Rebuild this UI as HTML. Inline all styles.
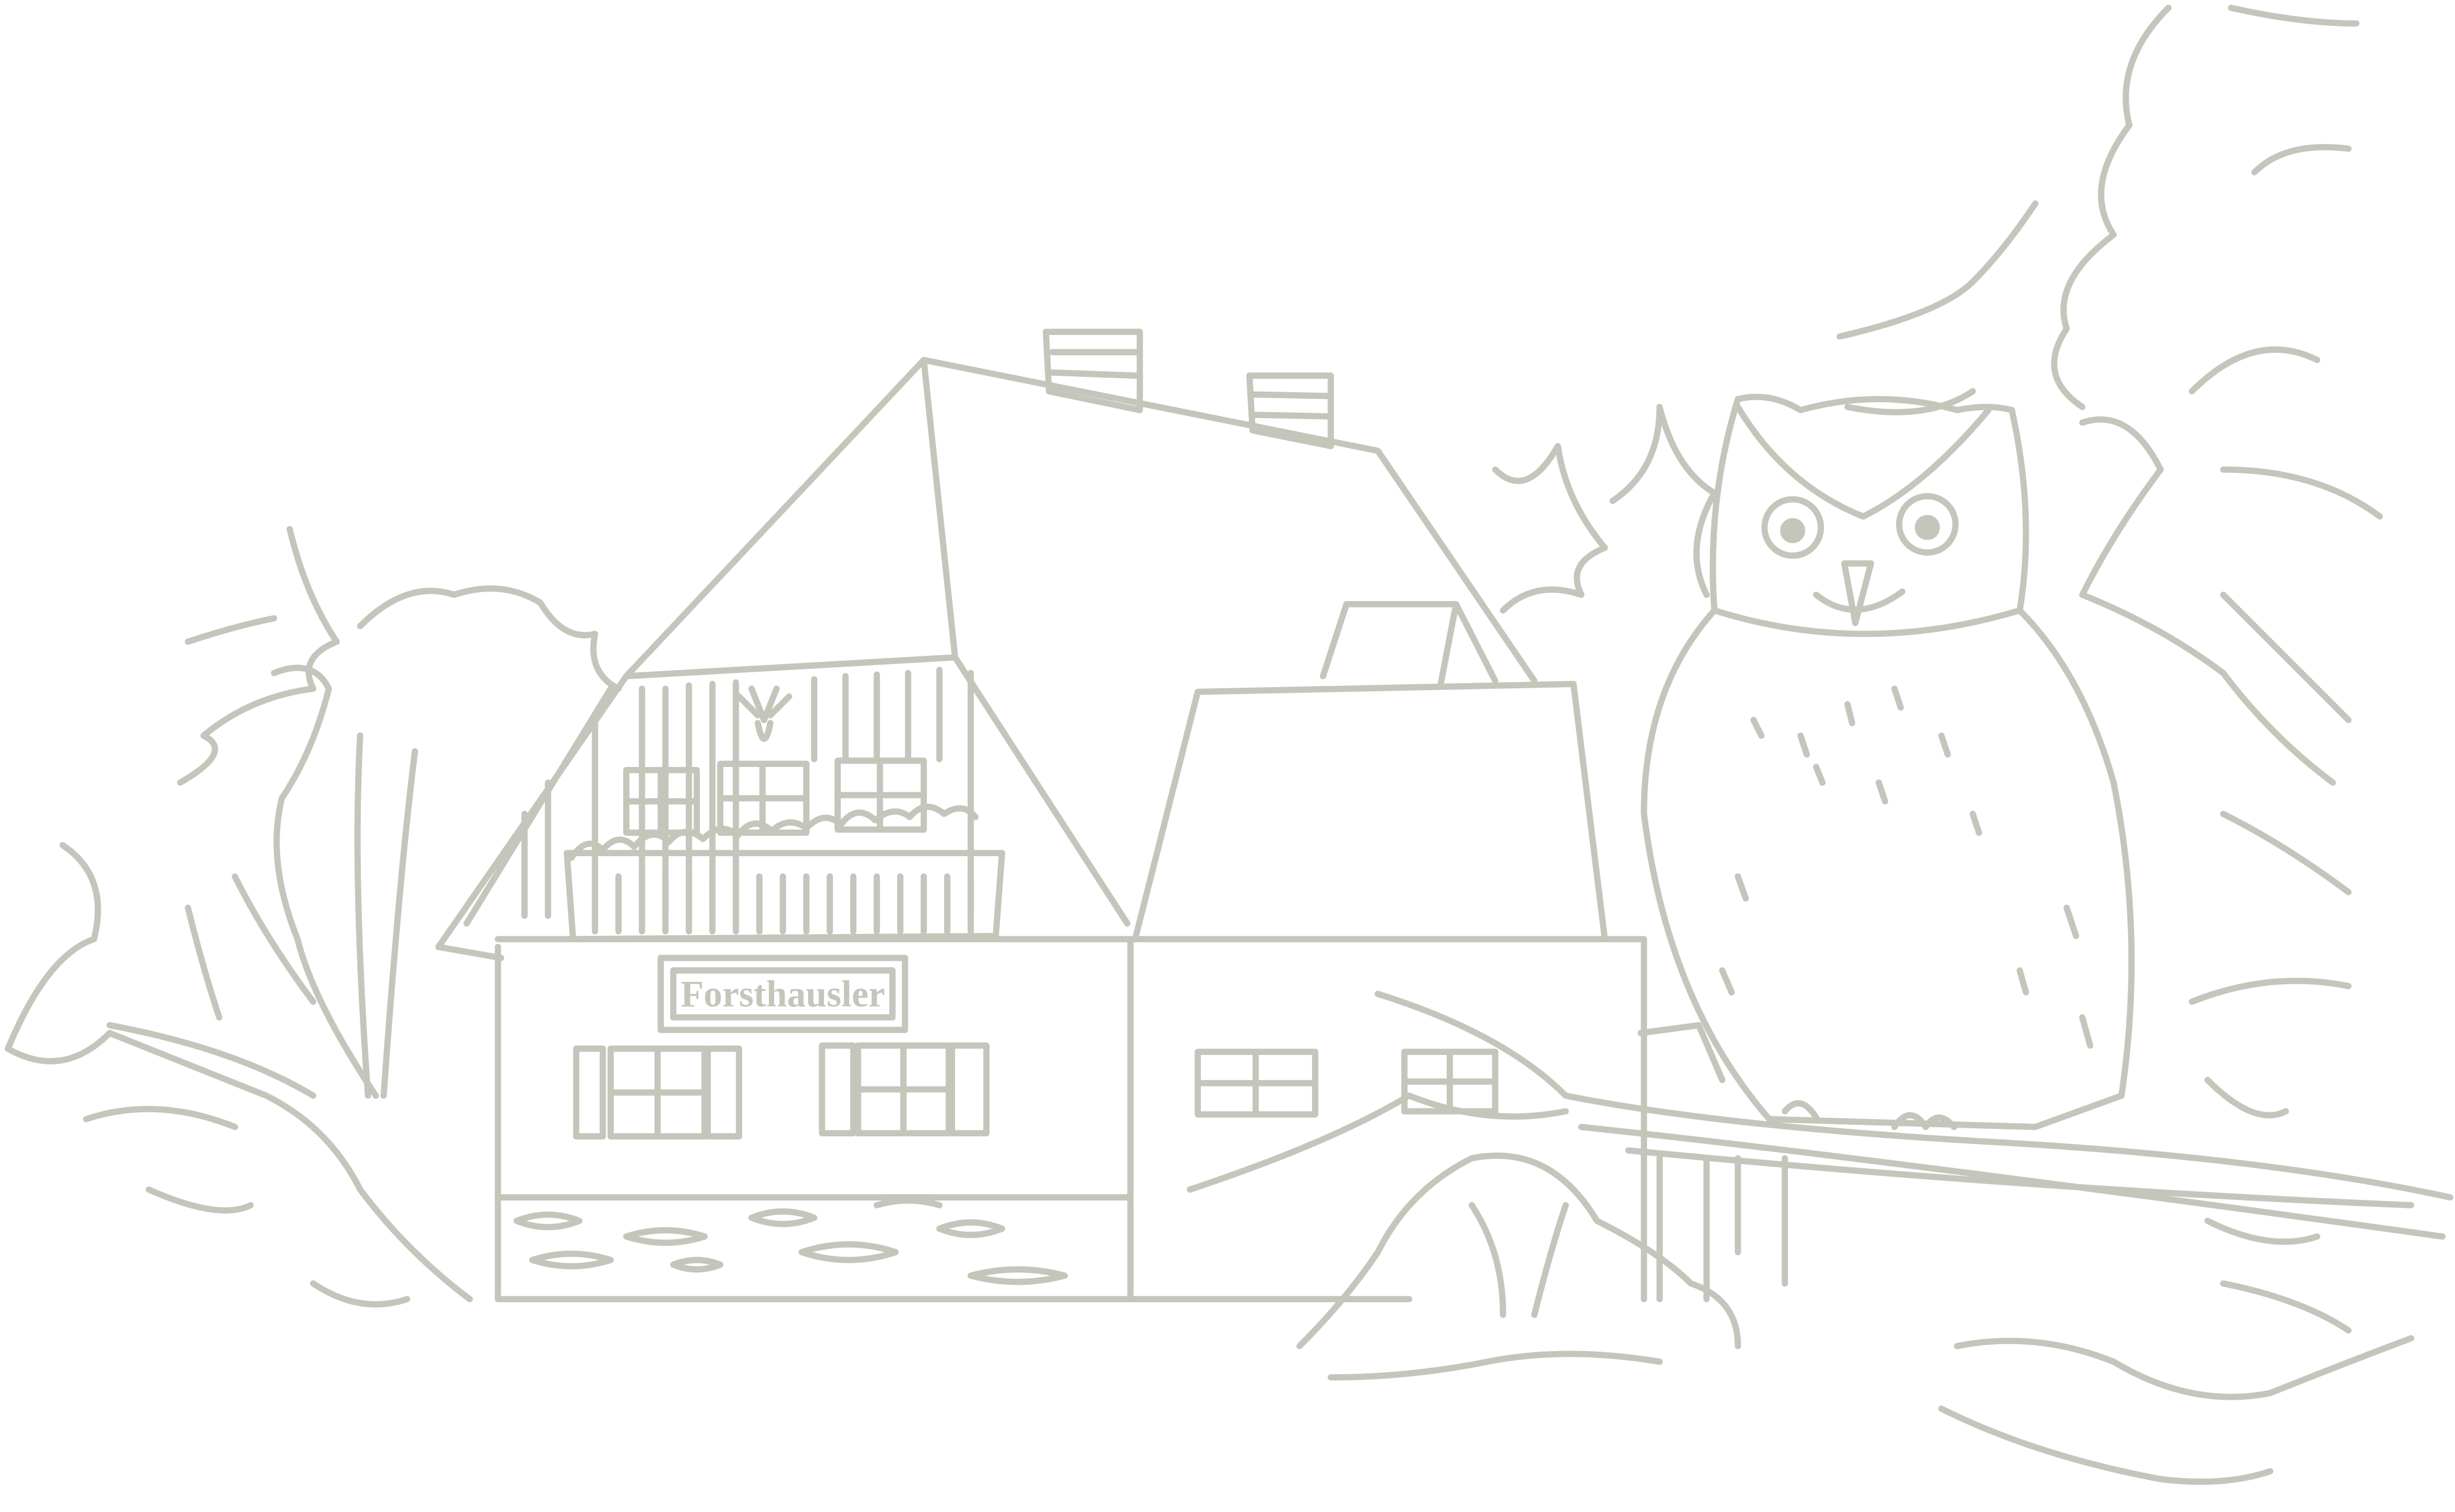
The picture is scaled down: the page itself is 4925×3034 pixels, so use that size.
<!DOCTYPE html>
<html><head><meta charset="utf-8"><style>
html,body{margin:0;padding:0;background:#fff;}
svg{display:block;}
</style></head><body>
<svg width="4925" height="3034" viewBox="0 0 1568 966" xmlns="http://www.w3.org/2000/svg">
<g fill="none" stroke="#c5c6bb" stroke-width="4" stroke-linecap="round" stroke-linejoin="round">
<!-- main roof -->
<path d="M590 230 L400 432 L280 605 L320 612"/>
<path d="M590 230 L880 288 L980 435"/>
<path d="M590 230 L610 420"/>
<path d="M400 432 L610 420 L720 590"/>
<path d="M298 590 L390 440"/>
<!-- chimneys -->
<path d="M668 212 L728 212 L728 262 L670 250 Z M672 225 L726 225 M672 238 L726 240"/>
<path d="M798 240 L850 240 L850 285 L800 275 Z M800 252 L848 253 M800 265 L848 266"/>
<!-- dormer -->
<path d="M845 432 L860 386 L930 386 L955 435 M930 386 L920 438"/>
<!-- gable facade vertical lines -->
<path d="M410 440 V585 M425 440 V585 M440 438 V585 M455 437 V585 M470 436 V585 M520 434 V485 M540 432 V485 M560 431 V485 M580 430 V485 M600 428 V485 M620 430 V585 M335 520 V585 M350 500 V585 M380 460 V585"/>
<!-- balcony -->
<path d="M362 545 L640 545 L636 598 L366 600 Z"/>
<path d="M380 560 V595 M395 560 V595 M410 560 V595 M425 560 V595 M440 560 V595 M455 560 V595 M470 560 V595 M485 560 V595 M500 560 V595 M515 560 V595 M530 560 V595 M545 560 V595 M560 560 V595 M575 560 V595 M590 560 V595 M605 560 V595 M620 560 V595"/>
<path d="M365 548 q10 -15 20 -5 q10 -12 20 -2 q12 -14 22 -3 q10 -12 22 -2 q12 -12 22 -2 q10 -14 22 -3 q10 -10 22 -2 q12 -12 22 -2 q10 -14 22 -3 q12 -10 22 -2 q10 -12 22 -2 q12 -8 20 2"/>
<!-- upper windows -->
<path d="M400 492 H445 V532 H400 Z M422 492 V532 M400 512 H445"/>
<path d="M460 488 H515 V532 H460 Z M487 488 V532 M460 510 H515"/>
<path d="M535 486 H590 V530 H535 Z M562 486 V530 M535 508 H590"/>
<!-- deer head -->
<path d="M480 440 l8 20 l8 -20 M472 445 l12 12 M504 445 l-12 12 M484 462 q4 20 8 0"/>
<!-- ground floor -->
<path d="M318 605 V830 H722 V600"/>
<path d="M318 600 H1050 V830"/>
<path d="M722 830 H900"/>
<!-- annex roof -->
<path d="M765 442 L1005 437 L1025 600 M765 442 L725 600"/>
<!-- sign -->
<path d="M422 612 H578 V658 H422 Z M430 620 H570 V650 H430 Z"/>
<!-- lower windows -->
<path d="M390 670 H450 V726 H390 Z M420 670 V726 M390 698 H450"/>
<path d="M368 670 H385 V726 H368 Z M452 670 H472 V726 H452 Z"/>
<path d="M548 668 H606 V724 H548 Z M577 668 V724 M548 696 H606"/>
<path d="M525 668 H545 V724 H525 Z M608 668 H630 V724 H608 Z"/>
<path d="M765 672 H840 V712 H765 Z M802 672 V712 M765 692 H840"/>
<path d="M897 672 H955 V710 H897 Z M926 672 V710 M897 691 H955"/>
<!-- stone base -->
<path d="M318 765 H720 M330 780 q20 -8 40 0 q-20 8 -40 0 M400 790 q25 -8 50 0 q-25 8 -50 0 M480 778 q20 -8 40 0 q-20 8 -40 0 M340 805 q25 -8 50 0 q-25 8 -50 0 M430 808 q15 -6 30 0 q-15 6 -30 0 M512 800 q30 -10 60 0 q-30 10 -60 0 M600 785 q20 -8 40 0 q-20 8 -40 0 M620 815 q30 -8 60 0 q-30 8 -60 0 M560 770 q20 -6 40 0"/>
<!-- owl -->
<path d="M1110 255 Q1130 250 1150 262 Q1200 248 1250 262 Q1270 258 1285 262 Q1300 330 1290 390 Q1330 430 1350 500 Q1370 600 1355 700 L1300 720 L1130 715 Q1065 640 1050 520 Q1050 440 1095 390 Q1090 320 1110 255 Z"/>
<circle cx="1145" cy="337" r="18"/><circle cx="1231" cy="335" r="18"/>
<circle cx="1145" cy="339" r="6" fill="#c5c6bb"/><circle cx="1231" cy="337" r="6" fill="#c5c6bb"/>
<path d="M1178 360 L1185 398 L1195 360 Z"/>
<path d="M1160 380 Q1185 400 1215 378 M1095 390 Q1190 420 1290 390"/>
<path d="M1110 260 Q1140 310 1190 330 M1270 262 Q1230 310 1190 330"/>
<path d="M1120 460 l5 10 M1150 470 l4 12 M1180 450 l3 12 M1210 440 l4 12 M1240 470 l4 12 M1160 490 l4 10 M1200 500 l4 12 M1260 520 l4 12 M1110 560 l5 14 M1100 620 l6 14 M1320 580 l6 18 M1330 650 l5 18 M1290 620 l4 14"/>
<path d="M1210 720 q10 -15 20 0 q8 -12 18 0 M1140 710 q10 -12 20 4"/>
<!-- branch -->
<path d="M880 635 Q960 660 1000 700 Q1100 720 1280 730 Q1450 740 1565 765"/>
<path d="M1010 720 Q1200 740 1560 790 M1040 735 Q1300 760 1540 770"/>
<path d="M760 760 Q850 730 900 700 Q950 720 1000 710"/>
<!-- posts -->
<path d="M1048 660 L1085 655 L1100 690 M1060 740 V830 M1090 740 V830 M1110 740 V800 M1140 740 V820"/>
<!-- left trees -->
<path d="M185 338 Q195 380 215 410 Q190 420 200 440 Q160 445 130 470 Q150 480 115 500 M120 410 Q150 400 175 395"/>
<path d="M230 400 Q260 370 290 380 Q320 370 345 385 Q360 410 380 405 Q375 430 395 440"/>
<path d="M175 430 Q200 420 210 440 Q200 480 180 510 Q170 550 190 600 Q200 640 240 700"/>
<path d="M230 470 Q225 560 235 700 M265 480 Q255 560 245 700"/>
<path d="M40 540 Q70 560 60 600 Q30 610 5 670 Q40 690 70 660 Q120 680 170 700 Q210 720 230 760 Q260 800 300 830"/>
<path d="M70 655 Q150 670 200 700 M55 715 Q100 700 150 720 M95 760 Q140 780 160 770 M200 820 Q230 840 260 830"/>
<path d="M150 560 Q170 600 200 640 M120 580 Q130 620 140 650"/>
<!-- right trees -->
<path d="M955 300 Q975 320 995 285 Q1000 320 1025 350 Q1000 360 1010 380 Q980 370 960 390"/>
<path d="M1030 320 Q1060 300 1060 260 Q1070 300 1095 315 Q1075 350 1090 380"/>
<path d="M1385 5 Q1350 40 1360 80 Q1330 120 1350 150 Q1310 180 1320 210 Q1300 240 1330 260 M1425 5 Q1470 15 1505 15 M1440 110 Q1460 90 1500 95"/>
<path d="M1175 215 Q1240 200 1260 180 Q1280 160 1300 130 M1180 260 Q1230 270 1260 250"/>
<path d="M1330 270 Q1360 260 1380 300 Q1350 340 1330 380 Q1380 400 1420 430 Q1450 470 1490 500"/>
<path d="M1400 250 Q1440 210 1480 230 M1420 300 Q1480 300 1520 330 M1420 380 Q1460 420 1500 460 M1420 520 Q1460 540 1500 570"/>
<path d="M1400 640 Q1450 620 1500 630 M1410 690 Q1440 720 1460 710 M1410 780 Q1450 800 1480 790 M1420 820 Q1470 830 1500 850"/>
<path d="M1250 860 Q1300 850 1350 870 Q1400 900 1450 890 Q1500 870 1540 855 M1240 900 Q1300 930 1380 945 Q1420 950 1450 940"/>
<!-- bushes front -->
<path d="M830 860 Q860 830 880 800 Q900 760 940 740 Q990 730 1020 780 Q1060 800 1080 820 Q1110 830 1110 860 M850 880 Q900 880 950 870 Q1000 860 1060 870"/>
<path d="M940 770 Q960 800 960 840 M1000 770 Q990 800 980 840"/>
</g>
<text x="500" y="643" text-anchor="middle" font-family="'Liberation Serif', serif" font-size="24" font-weight="bold" fill="#c5c6bb">Forsthausler</text>
</svg>
</body></html>
